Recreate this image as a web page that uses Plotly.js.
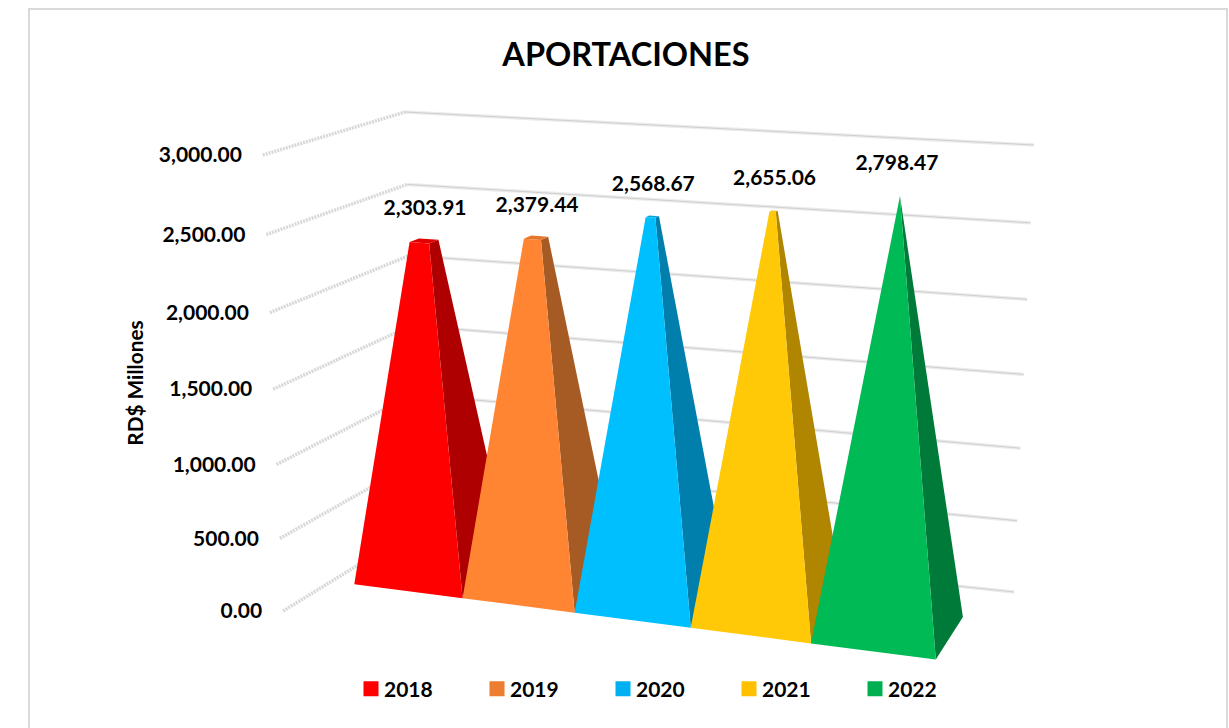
<!DOCTYPE html>
<html><head><meta charset="utf-8">
<script src="https://cdn.plot.ly/plotly-3.0.1.min.js"></script>
<style>html,body{margin:0;padding:0;background:#fff;overflow:hidden}#chart{width:1229px;height:728px}</style>
</head><body><div id="chart"></div>
<script>
const categories = ['2018','2019','2020','2021','2022'];
const values = [2303.91,2379.44,2568.67,2655.06,2798.47];
const tickValues = [0,500,1000,1500,2000,2500,3000];
const tickLabels = ['0.00','500.00','1,000.00','1,500.00','2,000.00','2,500.00','3,000.00'];
const frontColors = ['#FF0000','#FF8533','#00BFFF','#FFC907','#00BA55'];
const sideColors = ['#AE0000','#A65A24','#007FAC','#B08500','#007A38'];
const topColors = ['#E00000','#E8762A','#00A8E0','#E8B500','#00A64B'];
const legendColors = ['#FF0000','#ED7D31','#00B0F0','#FFC000','#00B050'];
const labelShift = [1,1,1,1,-3];
const axisMax = 3000;

/* Least-squares perspective camera fitted to [world, screen] correspondences */
function fitCamera(pairs){
  const rows=[],rhs=[];
  pairs.forEach(([[X,Y,Z],[u0,v0]])=>{
    const u=u0/1000,v=v0/1000;
    rows.push([X,Y,Z,1,0,0,0,0,-u*X,-u*Y,-u*Z]);rhs.push(u);
    rows.push([0,0,0,0,X,Y,Z,1,-v*X,-v*Y,-v*Z]);rhs.push(v);
  });
  const n=11,A=[];
  for(let i=0;i<n;i++){A.push(new Array(n+1).fill(0));
    for(let j=0;j<n;j++)rows.forEach(r=>A[i][j]+=r[i]*r[j]);
    rows.forEach((r,k)=>A[i][n]+=r[i]*rhs[k]);
    A[i][i]+=1e-10;}
  for(let i=0;i<n;i++){let p=i;for(let k=i+1;k<n;k++)if(Math.abs(A[k][i])>Math.abs(A[p][i]))p=k;
    [A[i],A[p]]=[A[p],A[i]];
    for(let k=0;k<n;k++){if(k===i)continue;const f=A[k][i]/A[i][i];for(let j=i;j<=n;j++)A[k][j]-=f*A[i][j];}}
  const m=A.map((r,i)=>r[n]/r[i]);
  return ([X,Y,Z])=>{const w=m[8]*X+m[9]*Y+m[10]*Z+1;
    return [1000*(m[0]*X+m[1]*Y+m[2]*Z+m[3])/w,1000*(m[4]*X+m[5]*Y+m[6]*Z+m[7])/w];};
}
const barCam=fitCamera([
 [[0,0,0],[355,585]],[[1,0,0],[462,598]],[[2,0,0],[574,613]],[[3,0,0],[691,628]],[[4,0,0],[811,643]],[[5,0,0],[936,659]],
 [[5,0,1],[963,617]],[[4.5,.9328,.5],[901,197]],[[3.5,.885,.5],[773,211]],[[2.5,.856,.5],[652,217]],[[1.5,.793,.5],[534,238]],
 [[.4116,.768,.4116],[410,242]],[[.5884,.768,.4116],[430,242]],[[.5884,.768,.5884],[439,240]]
]);
const wallCam=fitCamera([
 [[0,0,0],[283,611]],[[0,1,0],[263,155]],[[0,0,1],[417,529]],[[0,1,1],[405,112]],[[1,0,1],[1014,592]],[[1,1,1],[1034,145]]
]);

const traces=[];
function line(pts,color,width,dash){const p=pts.map(wallCam);
  traces.push({type:'scatter',mode:'lines',x:p.map(a=>a[0]),y:p.map(a=>a[1]),showlegend:false,hoverinfo:'skip',
    line:{color,width,dash:dash||'solid'}});}
tickValues.forEach(t=>{const h=t/axisMax;
  line([[0,h,0],[0,h,1]],'#d8d8d8',3.5,'2px,1px');
  line([[0,h,1],[1,h,1]],'#ececec',3.5);
  line([[0,h,1],[1,h,1]],'#cfcfcf',1);
});
const peak=Math.max(...values);
function face(pts,color,name){const p=pts.concat([pts[0]]).map(barCam);
  traces.push({type:'scatter',mode:'lines',x:p.map(a=>a[0]),y:p.map(a=>a[1]),fill:'toself',fillcolor:color,
    line:{width:0,color},showlegend:false,name,hoverinfo:'name'});}
categories.forEach((c,i)=>{
  const f=values[i]/peak,apex=[i+.5,peak/axisMax,.5];
  const lift=b=>[b[0]+(apex[0]-b[0])*f,b[1]+(apex[1]-b[1])*f,b[2]+(apex[2]-b[2])*f];
  const A=[i,0,0],B=[i+1,0,0],C=[i+1,0,1],D=[i,0,1];
  face([B,C,lift(C),lift(B)],sideColors[i],c);
  face([A,B,lift(B),lift(A)],frontColors[i],c);
  face([lift(A),lift(B),lift(C),lift(D)],topColors[i],c);
});
/* data labels */
const tips=categories.map((c,i)=>barCam([i+.5,values[i]/axisMax,.5]));
traces.push({type:'scatter',mode:'text',x:tips.map((p,i)=>p[0]+labelShift[i]),y:tips.map(p=>p[1]-31),
  text:values.map(v=>v.toLocaleString('en-US',{minimumFractionDigits:2,maximumFractionDigits:2})),
  textposition:'middle center',textfont:{family:'Lato',size:21,color:'#000',weight:700},showlegend:false,hoverinfo:'skip'});
/* axis labels */
const ends=tickValues.map(t=>wallCam([0,t/axisMax,0]));
traces.push({type:'scatter',mode:'text',x:ends.map(p=>p[0]-21),y:ends.map(p=>p[1]+2),text:tickLabels,
  textposition:'middle left',textfont:{family:'Lato',size:21,color:'#000',weight:700},showlegend:false,hoverinfo:'skip'});
/* legend */
categories.forEach((c,i)=>traces.push({type:'scatter',mode:'markers',x:[null],y:[null],name:c,
  marker:{symbol:'square',size:15,color:legendColors[i]}}));

const left=156,top0=38,W=1229,H=728;
const px=x=>(x-left)/(W-left), py=y=>(H-y)/(H-top0);
Plotly.newPlot('chart',traces,{
  width:W,height:H,margin:{l:left,r:0,t:top0,b:0,pad:0},paper_bgcolor:'#fff',plot_bgcolor:'rgba(0,0,0,0)',
  title:{text:'APORTACIONES',font:{family:'Lato',size:32.5,color:'#000',weight:700},x:626/W,xanchor:'center',y:1-55/H,yanchor:'middle'},
  xaxis:{range:[left,W],visible:false,fixedrange:true},
  yaxis:{range:[H,top0],fixedrange:true,showgrid:false,zeroline:false,showline:false,showticklabels:false,ticks:'',
    title:{text:'RD$ Millones',standoff:5,font:{family:'Lato',size:20.8,color:'#000',weight:700}}},
  showlegend:true,
  legend:{orientation:'h',x:px(344),y:py(689),xanchor:'left',yanchor:'middle',entrywidth:81,entrywidthmode:'pixels',
    font:{family:'Lato',size:21,color:'#000',weight:700},bgcolor:'rgba(0,0,0,0)'},
  shapes:[{type:'rect',xref:'paper',yref:'paper',x0:px(29),x1:px(1227),y0:-0.05,y1:py(9),line:{color:'#d9d9d9',width:2},fillcolor:'rgba(0,0,0,0)',layer:'below'}]
},{displayModeBar:false,staticPlot:true}).then(()=>{
  document.querySelectorAll('#chart .legendpoints').forEach(g=>g.setAttribute('transform','translate(7,0)'));
});
</script></body></html>
